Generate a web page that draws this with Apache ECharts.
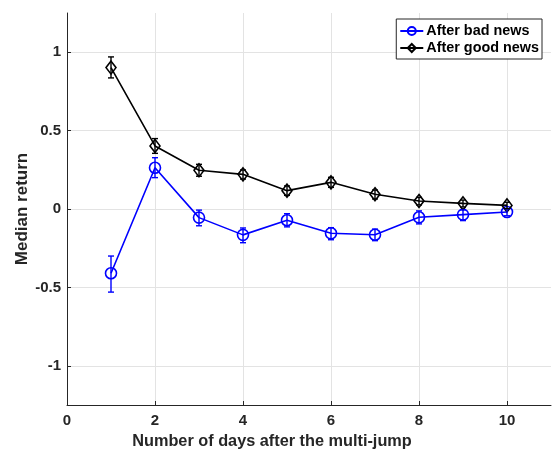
<!DOCTYPE html>
<html>
<head>
<meta charset="utf-8">
<script src="https://cdn.jsdelivr.net/npm/echarts@6/dist/echarts.min.js"></script>
<style>
  html, body { margin: 0; padding: 0; background: #fff; }
  #chart { width: 553px; height: 457px; }
</style>
</head>
<body>
<div id="chart"></div>
<script>
// Days after the multi-jump
const days = [1, 2, 3, 4, 5, 6, 7, 8, 9, 10];

// Median returns and their error-bar bounds after bad news
const badMedian = [-0.41, 0.263, -0.055, -0.165, -0.072, -0.155, -0.164, -0.053, -0.036, -0.019];
const badLow    = [-0.53, 0.20, -0.107, -0.215, -0.114, -0.196, -0.202, -0.095, -0.074, -0.043];
const badHigh   = [-0.30, 0.327, -0.007, -0.121, -0.030, -0.119, -0.128, -0.012, -0.006, 0.000];

// Median returns and their error-bar bounds after good news
const goodMedian = [0.902, 0.402, 0.247, 0.221, 0.117, 0.170, 0.094, 0.051, 0.036, 0.023];
const goodLow    = [0.836, 0.355, 0.209, 0.191, 0.087, 0.138, 0.064, 0.026, 0.013, 0.002];
const goodHigh   = [0.970, 0.449, 0.285, 0.249, 0.147, 0.202, 0.121, 0.074, 0.057, 0.043];

// Axis tick labels
const xTicks = [0, 2, 4, 6, 8, 10];
const yTicks = [-1, -0.5, 0, 0.5, 1];

const BLUE = '#0000ff';
const BLACK = '#000000';
const TEXT = '#262626';
const FONT = '"Liberation Sans", Arial, Helvetica, sans-serif';

function pairs(xs, ys) { return xs.map((x, i) => [x, ys[i]]); }
function bars(xs, lo, hi) { return xs.map((x, i) => [x, lo[i], hi[i]]); }

function errorBarSeries(name, data, color) {
  return {
    type: 'custom',
    name: name + ' err',
    data: data,
    z: 5,
    silent: true,
    legendHoverLink: false,
    encode: { x: 0, y: [1, 2] },
    renderItem: function (params, api) {
      const x = api.value(0);
      const lo = api.coord([x, api.value(1)]);
      const hi = api.coord([x, api.value(2)]);
      const cap = 3;
      const style = { stroke: color, lineWidth: 1.4, fill: null };
      return {
        type: 'group',
        children: [
          { type: 'line', shape: { x1: lo[0], y1: lo[1], x2: hi[0], y2: hi[1] }, style: style },
          { type: 'line', shape: { x1: lo[0] - cap, y1: lo[1], x2: lo[0] + cap, y2: lo[1] }, style: style },
          { type: 'line', shape: { x1: hi[0] - cap, y1: hi[1], x2: hi[0] + cap, y2: hi[1] }, style: style }
        ]
      };
    }
  };
}

const chart = echarts.init(document.getElementById('chart'), null, { renderer: 'canvas' });

chart.setOption({
  animation: false,
  backgroundColor: '#ffffff',
  textStyle: { fontFamily: FONT },
  grid: { left: 67, right: 2, top: 13, bottom: 52, containLabel: false },
  legend: {
    orient: 'vertical',
    right: 11,
    top: 19,
    data: ['After bad news', 'After good news'],
    backgroundColor: '#ffffff',
    borderColor: TEXT,
    borderWidth: 1,
    borderRadius: 0,
    padding: [5, 3, 4, 3],
    itemGap: 3,
    itemWidth: 23,
    itemHeight: 10,
    textStyle: { fontFamily: FONT, fontWeight: 'bold', fontSize: 14.4, color: '#000', padding: [0, 0, 0, -2] }
  },
  xAxis: {
    type: 'value',
    min: 0,
    max: 11,
    name: 'Number of days after the multi-jump',
    nameLocation: 'middle',
    nameGap: 29,
    nameMoveOverlap: false,
    nameTextStyle: { fontFamily: FONT, fontWeight: 'bold', fontSize: 16.3, color: TEXT, padding: [0, 74, 0, 0] },
    axisLine: { show: true, onZero: false, lineStyle: { color: TEXT, width: 1 } },
    axisTick: { show: true, inside: true, length: 4, customValues: xTicks, lineStyle: { color: TEXT } },
    axisLabel: { customValues: xTicks, margin: 8, fontFamily: FONT, fontWeight: 'bold', fontSize: 15, color: TEXT },
    splitLine: { show: true, lineStyle: { color: '#e3e3e3', width: 1 } }
  },
  yAxis: {
    type: 'value',
    min: -1.25,
    max: 1.25,
    name: 'Median return',
    nameLocation: 'middle',
    nameGap: 36,
    nameMoveOverlap: false,
    nameTextStyle: { fontFamily: FONT, fontWeight: 'bold', fontSize: 17, color: TEXT },
    axisLine: { show: true, onZero: false, lineStyle: { color: TEXT, width: 1 } },
    axisTick: { show: true, inside: true, length: 4, customValues: yTicks, lineStyle: { color: TEXT } },
    axisLabel: { customValues: yTicks, margin: 6, fontFamily: FONT, fontWeight: 'bold', fontSize: 15, color: TEXT },
    splitLine: { show: true, lineStyle: { color: '#e3e3e3', width: 1 } }
  },
  series: [
    {
      type: 'line',
      name: 'After bad news',
      data: pairs(days, badMedian),
      z: 4,
      symbol: 'circle',
      symbolSize: 11,
      showAllSymbol: true,
      lineStyle: { color: BLUE, width: 1.6 },
      itemStyle: { color: 'rgba(255,255,255,0)', borderColor: BLUE, borderWidth: 1.6 }
    },
    {
      type: 'line',
      name: 'After good news',
      data: pairs(days, goodMedian),
      z: 4,
      symbol: 'diamond',
      symbolSize: [10, 13],
      showAllSymbol: true,
      lineStyle: { color: BLACK, width: 1.6 },
      itemStyle: { color: 'rgba(255,255,255,0)', borderColor: BLACK, borderWidth: 1.6 }
    },
    errorBarSeries('After bad news', bars(days, badLow, badHigh), BLUE),
    errorBarSeries('After good news', bars(days, goodLow, goodHigh), BLACK)
  ]
});
</script>
</body>
</html>
